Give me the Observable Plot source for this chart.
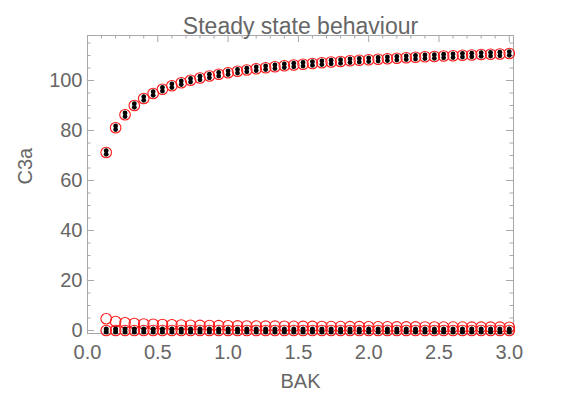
<!DOCTYPE html>
<html><head><meta charset="utf-8">
<script src="https://cdn.jsdelivr.net/npm/d3@7"></script>
<script src="https://cdn.jsdelivr.net/npm/@observablehq/plot@0.6"></script>
<style>body{margin:0;background:#fff}</style>
</head><body><div id="chart"></div>
<script>
const title = "Steady state behaviour";
const xLabel = "BAK";
const yLabel = "C3a";
const bak = [0.133,0.2,0.267,0.333,0.4,0.467,0.533,0.6,0.667,0.733,0.8,0.867,0.933,1.0,1.067,1.133,1.2,1.267,1.333,1.4,1.467,1.533,1.6,1.667,1.733,1.8,1.867,1.933,2.0,2.067,2.133,2.2,2.267,2.333,2.4,2.467,2.533,2.6,2.667,2.733,2.8,2.867,2.933,3.0];
const c3aHigh = [71.2,81.1,86.3,90.0,92.8,94.8,96.5,97.9,99.1,100.1,101.0,101.8,102.5,103.1,103.7,104.2,104.7,105.1,105.5,105.9,106.2,106.5,106.8,107.1,107.4,107.6,107.9,108.1,108.3,108.5,108.7,108.9,109.1,109.3,109.5,109.6,109.8,109.9,110.1,110.2,110.4,110.5,110.6,110.8];
const c3aLowRed = [4.7,3.6,3.1,2.8,2.6,2.5,2.4,2.3,2.2,2.1,2.05,2.0,1.95,1.9,1.85,1.8,1.78,1.75,1.72,1.7,1.67,1.65,1.62,1.6,1.58,1.56,1.54,1.52,1.5,1.48,1.46,1.45,1.44,1.42,1.41,1.4,1.38,1.37,1.36,1.35,1.34,1.33,1.32,1.3];
const c3aLowZero = [0,0,0,0,0,0,0,0,0,0,0,0,0,0,0,0,0,0,0,0,0,0,0,0,0,0,0,0,0,0,0,0,0,0,0,0,0,0,0,0,0,0,0,0];
const xMajor = [0,0.5,1,1.5,2,2.5,3];
const xMinor = [0.1,0.2,0.3,0.4,0.6,0.7,0.8,0.9,1.1,1.2,1.3,1.4,1.6,1.7,1.8,1.9,2.1,2.2,2.3,2.4,2.6,2.7,2.8,2.9];
const yMajor = [0,20,40,60,80,100];
const yMinor = [5,10,15,25,30,35,45,50,55,65,70,75,85,90,95,105,110,115];

const high = bak.map((x,i)=>({x, y:c3aHigh[i]}));
const lowRed = bak.map((x,i)=>({x, y:c3aLowRed[i]}));
const lowZero = bak.map((x,i)=>({x, y:c3aLowZero[i]}));

const W=578, H=400, mL=87, mR=65, mT=35, mB=67;
const pw = W-mL-mR, ph = H-mT-mB;
const tickCol = "#a8a8a8", textCol = "#666";
const red = "#ff1a1a";

const chart = Plot.plot({
  width: W, height: H,
  marginLeft: mL, marginRight: mR, marginTop: mT, marginBottom: mB,
  style: {fontFamily: "Liberation Sans, Arial, sans-serif", fontSize: "20px", color: textCol, background: "#fff"},
  x: {domain: [0, 3.03]},
  y: {domain: [-1.2, 118]},
  marks: [
    Plot.frame({stroke: tickCol}),
    Plot.tickX(xMajor, {x: d=>d, stroke: tickCol, insetTop: ph-7}),
    Plot.tickX(xMajor, {x: d=>d, stroke: tickCol, insetBottom: ph-7}),
    Plot.tickX(xMinor, {x: d=>d, stroke: tickCol, insetTop: ph-3.5}),
    Plot.tickX(xMinor, {x: d=>d, stroke: tickCol, insetBottom: ph-3.5}),
    Plot.tickY(yMajor, {y: d=>d, stroke: tickCol, insetRight: pw-7}),
    Plot.tickY(yMajor, {y: d=>d, stroke: tickCol, insetLeft: pw-7}),
    Plot.tickY(yMinor, {y: d=>d, stroke: tickCol, insetRight: pw-3.5}),
    Plot.tickY(yMinor, {y: d=>d, stroke: tickCol, insetLeft: pw-3.5}),
    Plot.axisX({ticks: xMajor, tickSize: 0, tickPadding: 11, tickFormat: d=>d.toFixed(1), label: null}),
    Plot.axisY({ticks: yMajor, tickSize: 0, tickPadding: 5, label: null}),
    Plot.dot(high, {x: "x", y: "y", r: 5.3, stroke: red, strokeWidth: 1.1, fill: "none"}),
    Plot.dot(lowRed, {x: "x", y: "y", r: 5.3, stroke: red, strokeWidth: 1.1, fill: "none"}),
    Plot.dot(lowZero, {x: "x", y: "y", r: 5.3, stroke: red, strokeWidth: 1.1, fill: "none"}),
    Plot.dot(high, {x: "x", y: "y", r: 2.4, fill: "black", dy: -1.8}),
    Plot.dot(high, {x: "x", y: "y", r: 2.4, fill: "black", dy: 1.8}),
    Plot.dot(lowZero, {x: "x", y: "y", r: 2.5, fill: "black", dy: -1.5}),
    Plot.dot(lowZero, {x: "x", y: "y", r: 2.5, fill: "black", dy: 1.5}),
    Plot.text([title], {frameAnchor: "top", dy: -18, fontSize: 23, fill: textCol}),
    Plot.text([xLabel], {frameAnchor: "bottom", dy: 54, fontSize: 20, fill: textCol}),
    Plot.text([yLabel], {frameAnchor: "left", dx: -62, rotate: -90, fontSize: 20, fill: textCol})
  ]
});
document.getElementById("chart").appendChild(chart);
</script>
</body></html>
